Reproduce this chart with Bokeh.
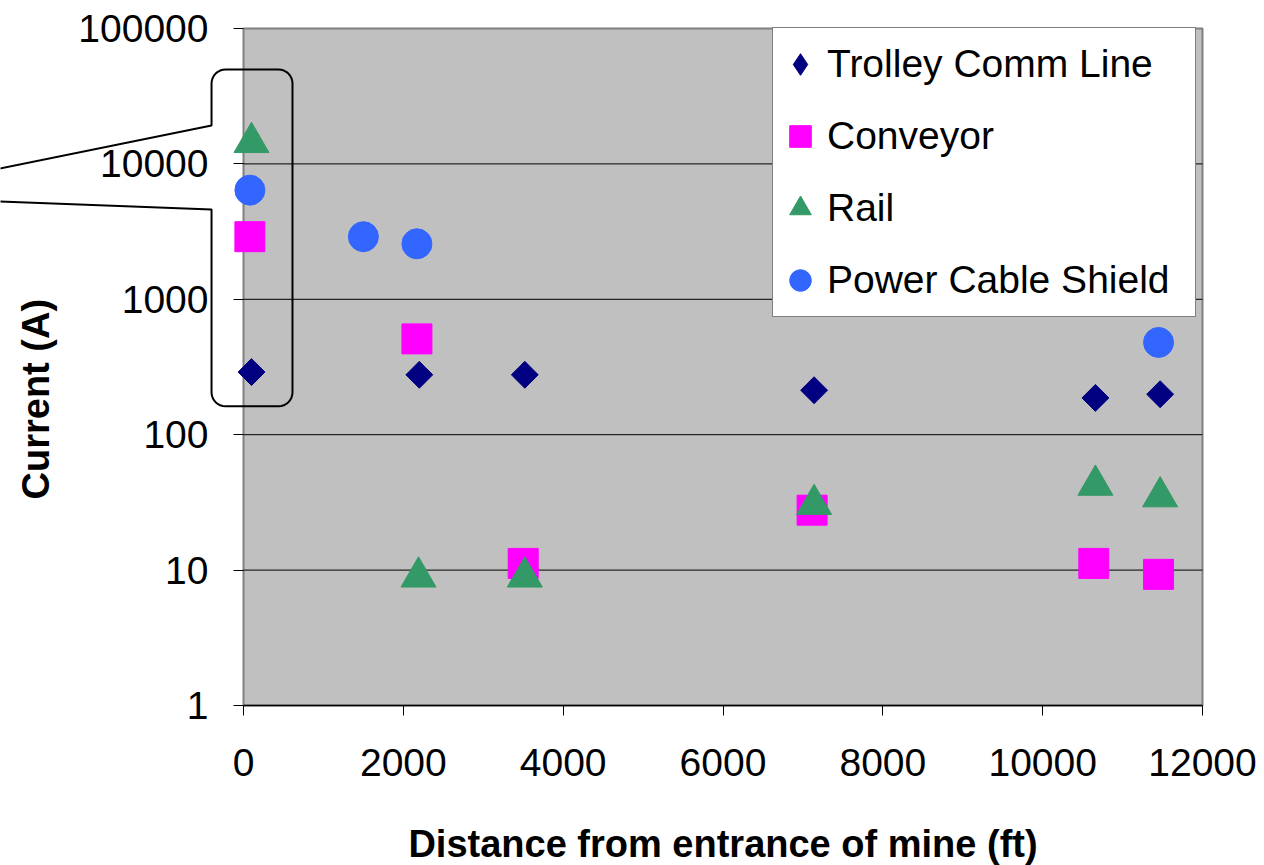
import math
from bokeh.plotting import figure
from bokeh.models import (Range1d, FixedTicker, NumeralTickFormatter, Legend,
                          LegendItem, PolyAnnotation, Label, BoxAnnotation)
from bokeh.embed import file_html
from bokeh.resources import INLINE

# ---------------- data ----------------
x_ticks = [0, 2000, 4000, 6000, 8000, 10000, 12000]
y_ticks = [1, 10, 100, 1000, 10000, 100000]

trolley_x = [100, 2200, 3520, 7140, 10660, 11470]
trolley_y = [290, 277, 277, 213, 187, 199]

conveyor_x = [80, 2170, 3500, 7115, 10640, 11450]
conveyor_y = [2900, 510, 11.2, 27.7, 11.2, 9.3]

rail_x = [100, 2190, 3520, 7140, 10660, 11470]
rail_y = [14400, 8.9, 8.9, 30.6, 42.4, 34.8]

shield_x = [80, 1500, 2170, 11450]
shield_y = [6400, 2900, 2570, 480]

series_names = ["Trolley Comm Line", "Conveyor", "Rail", "Power Cable Shield"]

x_title = "Distance from entrance of mine (ft)"
y_title = "Current (A)"

# ---------------- layout (plot area inside a full-canvas frame) ----------------
CW, CH = 1264, 865            # canvas
PL, PT, PW, PH = 243, 28, 959, 677   # grey plot area in canvas pixels
X0, X1 = x_ticks[0], x_ticks[-1]
Y0, Y1 = y_ticks[0], y_ticks[-1]
LY0, LY1 = math.log10(Y0), math.log10(Y1)


def dx(px):
    return X0 + (px - PL) / PW * (X1 - X0)


def dy(py):
    return 10 ** (LY1 - (py - PT) / PH * (LY1 - LY0))


def sx(x):
    return PL + (x - X0) / (X1 - X0) * PW


def sy(y):
    return PT + (LY1 - math.log10(y)) / (LY1 - LY0) * PH


p = figure(frame_width=CW, frame_height=CH, min_border=0,
           x_range=Range1d(dx(0), dx(CW)), y_range=Range1d(dy(CH), dy(0)),
           y_axis_type="log", output_backend="svg",
           toolbar_location=None, title=None)

p.background_fill_color = "white"
p.border_fill_color = "white"
p.outline_line_color = None
p.xgrid.visible = False
p.ygrid.visible = False

# grey plot area
p.add_layout(BoxAnnotation(left=X0, right=X1, bottom=Y0, top=Y1, level="underlay",
                           fill_color="#C0C0C0", fill_alpha=1,
                           line_color="#808080", line_alpha=1, line_width=2))

# horizontal grid lines
grid_vals = y_ticks[1:-1]
p.segment(x0=[X0] * len(grid_vals), x1=[X1] * len(grid_vals),
          y0=grid_vals, y1=grid_vals, line_color="black", line_width=1)

# axes fixed at the plot-area edges
p.xaxis.fixed_location = Y0
p.yaxis.fixed_location = X0
p.xaxis.bounds = (X0, X1)
p.yaxis.bounds = (Y0, Y1)
p.xaxis.ticker = FixedTicker(ticks=x_ticks, minor_ticks=[])
p.yaxis.ticker = FixedTicker(ticks=y_ticks, minor_ticks=[])
p.xaxis.formatter = NumeralTickFormatter(format="0")
p.yaxis.formatter = NumeralTickFormatter(format="0")

for ax in (p.xaxis, p.yaxis):
    ax.major_label_text_font = "Liberation Sans"
    ax.major_label_text_font_size = "39px"
    ax.major_label_text_color = "black"
    ax.major_tick_line_color = "black"
    ax.major_tick_out = 10
    ax.major_tick_in = 0
    ax.minor_tick_line_color = None

p.xaxis.axis_line_color = "black"
p.xaxis.axis_line_width = 1.5
p.yaxis.axis_line_color = None
p.xaxis.major_label_standoff = 33
p.yaxis.major_label_standoff = 25

p.xaxis.axis_label = x_title
p.xaxis.axis_label_text_font = "Liberation Sans"
p.xaxis.axis_label_text_font_size = "38px"
p.xaxis.axis_label_text_font_style = "bold"
p.xaxis.axis_label_text_color = "black"
p.xaxis.axis_label_standoff = 44

# ---------------- markers ----------------
r_trolley = p.scatter(trolley_x, trolley_y, marker="square", angle=math.pi / 4,
                      size=19, fill_color="#000080", line_color="#000080")
r_conv = p.scatter(conveyor_x, conveyor_y, marker="square", size=30,
                   fill_color="#FF00FF", line_color="#FF00FF")
r_rail = p.scatter(rail_x, rail_y, marker="triangle", size=35,
                   fill_color="#339966", line_color="#339966")
r_shield = p.scatter(shield_x, shield_y, marker="circle", size=30,
                     fill_color="#3366FF", line_color="#3366FF")
# legend swatch for the diamond series (not drawn in the plot)
r_trolley_key = p.scatter([float("nan")], [float("nan")], marker="diamond",
                          fill_color="#000080", line_color="#000080")

legend = Legend(items=[LegendItem(label=series_names[0], renderers=[r_trolley_key]),
                       LegendItem(label=series_names[1], renderers=[r_conv]),
                       LegendItem(label=series_names[2], renderers=[r_rail]),
                       LegendItem(label=series_names[3], renderers=[r_shield])],
                location=(772, CH - 29 - 288), glyph_width=54, glyph_height=72,
                label_height=72, label_width=368, label_standoff=0,
                spacing=0, padding=0, margin=0,
                border_line_color="black", border_line_width=1,
                background_fill_color="white", background_fill_alpha=1,
                label_text_font="Liberation Sans", label_text_font_size="39px",
                label_text_color="black")
p.add_layout(legend)

# ---------------- y title ----------------
p.add_layout(Label(x=dx(35), y=dy(398.7), text=y_title, angle=math.pi / 2,
                   text_align="center", text_baseline="middle",
                   text_font="Liberation Sans", text_font_size="38px",
                   text_font_style="bold", text_color="black"))

# ---------------- callout around the first location ----------------
c_left, c_right, c_bottom, c_top = -400, 613, 162, 49800
gap_top, gap_bottom = 19200, 4600
tail_x, tail_top, tail_bot = -3041, 9250, 5275
rad = 14

L, R, T, B = sx(c_left), sx(c_right), sy(c_top), sy(c_bottom)
gt, gb = sy(gap_top), sy(gap_bottom)
tx, tty, tby = sx(tail_x), sy(tail_top), sy(tail_bot)
xf = tx - 60
ytf = gt + (tty - gt) * (xf - L) / (tx - L)
ybf = gb + (tby - gb) * (xf - L) / (tx - L)


def arc(cx, cy, a0, a1, n=8):
    return [(cx + rad * math.cos(a0 + (a1 - a0) * i / n),
             cy + rad * math.sin(a0 + (a1 - a0) * i / n)) for i in range(n + 1)]


pts = [(xf, ytf), (L, gt)]
pts += arc(L + rad, T + rad, math.pi, 1.5 * math.pi)
pts += arc(R - rad, T + rad, 1.5 * math.pi, 2 * math.pi)
pts += arc(R - rad, B - rad, 0, 0.5 * math.pi)
pts += arc(L + rad, B - rad, 0.5 * math.pi, math.pi)
pts += [(L, gb), (xf, ybf)]

p.add_layout(PolyAnnotation(xs=[dx(a) for a, b in pts], ys=[dy(b) for a, b in pts],
                            fill_color=None, fill_alpha=0,
                            line_color="black", line_alpha=1, line_width=2))

open("out.html", "w").write(file_html(p, INLINE))
